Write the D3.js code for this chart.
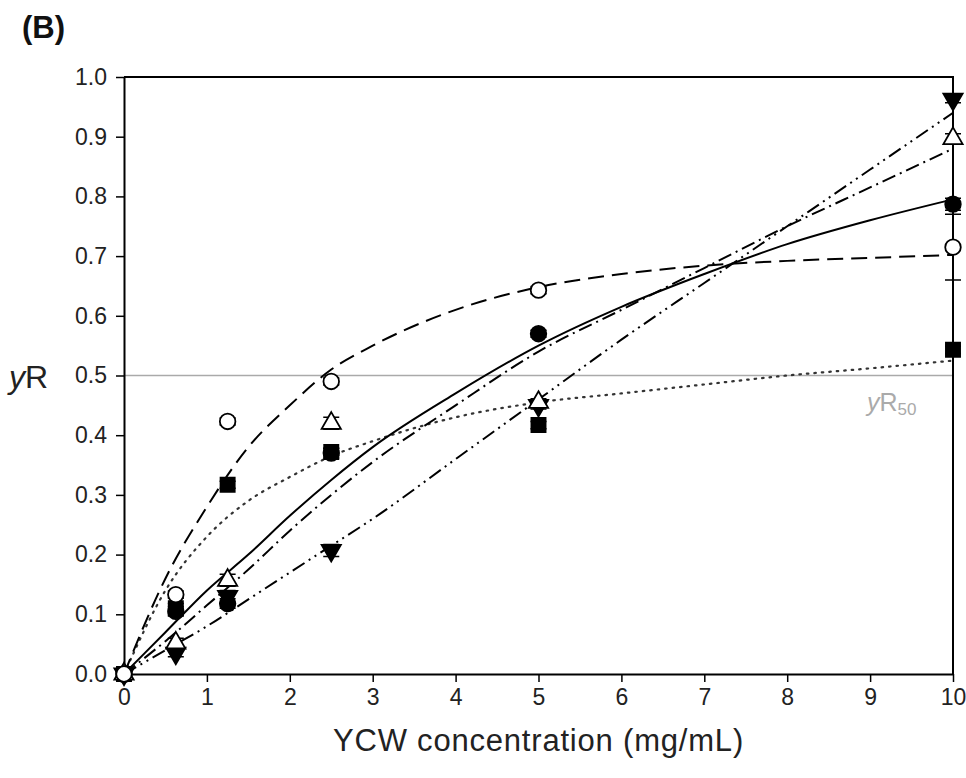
<!DOCTYPE html>
<html lang="en">
  <head>
    <meta charset="UTF-8" />
    <title>yR vs YCW concentration</title>
    <style>
      body { margin: 0; background: #fff; }
      svg { font-family: "Liberation Sans", Arial, sans-serif; }
    </style>
  </head>
  <body>
    <svg id="chart"></svg>
  </body>
</html>

<script src="https://cdnjs.cloudflare.com/ajax/libs/d3/7.8.5/d3.min.js"></script>

<script>
  // concentrations (mg/mL) where yR was measured
  const conc = [0, 0.625, 1.25, 2.5, 5, 10];

  // measured yR for each series
  const filledCircle = [0, 0.105, 0.118, 0.37, 0.57, 0.787];
  const openCircle = [0, 0.133, 0.423, 0.49, 0.643, 0.715];
  const filledTriDown = [0, 0.035, 0.13, 0.207, 0.45, 0.963];
  const openTriUp = [0, 0.052, 0.157, 0.42, 0.455, 0.897];
  const filledSquare = [0, 0.11, 0.317, 0.372, 0.417, 0.543];

  // standard errors
  const errFilledCircle = [0, 0.008, 0.008, 0.008, 0.006, 0.01];
  const errOpenCircle = [0, 0.006, 0.006, 0.006, 0.006, 0.055];
  const errFilledTriDown = [0, 0.006, 0.01, 0.01, 0.006, 0.006];
  const errOpenTriUp = [0, 0.008, 0.01, 0.01, 0.006, 0.008];
  const errFilledSquare = [0, 0.008, 0.006, 0.006, 0.006, 0.006];

  // fitted curves
  const curveX = [0, 0.5, 1, 1.5, 2, 2.5, 3, 4, 5, 6, 7, 8, 9, 10];
  const fitFilledCircle = [0, 0.07, 0.14, 0.2, 0.265, 0.325, 0.38, 0.47, 0.55, 0.615, 0.67, 0.72, 0.76, 0.795];
  const fitOpenCircle = [0, 0.16, 0.28, 0.38, 0.45, 0.51, 0.55, 0.61, 0.648, 0.67, 0.684, 0.692, 0.697, 0.702];
  const fitFilledTriDown = [0, 0.04, 0.08, 0.125, 0.17, 0.215, 0.26, 0.36, 0.46, 0.56, 0.655, 0.75, 0.845, 0.94];
  const fitOpenTriUp = [0, 0.055, 0.115, 0.175, 0.24, 0.3, 0.355, 0.45, 0.54, 0.61, 0.68, 0.75, 0.815, 0.88];
  const fitFilledSquare = [0, 0.14, 0.23, 0.29, 0.33, 0.365, 0.39, 0.43, 0.455, 0.47, 0.485, 0.5, 0.512, 0.525];

  const xTicks = [0, 1, 2, 3, 4, 5, 6, 7, 8, 9, 10];
  const yTicks = [0, 0.1, 0.2, 0.3, 0.4, 0.5, 0.6, 0.7, 0.8, 0.9, 1.0];
  const refLevel = 0.5;

  const series = [
    { pts: filledSquare, err: errFilledSquare, fit: fitFilledSquare, shape: "square", fill: "#000", dash: "1.5,6" },
    { pts: filledTriDown, err: errFilledTriDown, fit: fitFilledTriDown, shape: "triDown", fill: "#000", dash: "14,5,2,5,2,5" },
    { pts: openTriUp, err: errOpenTriUp, fit: fitOpenTriUp, shape: "triUp", fill: "#fff", dash: "14,5,2,5" },
    { pts: filledCircle, err: errFilledCircle, fit: fitFilledCircle, shape: "circle", fill: "#000", dash: null },
    { pts: openCircle, err: errOpenCircle, fit: fitOpenCircle, shape: "circle", fill: "#fff", dash: "16,8" },
  ];

  function drawChart({ width = 966, height = 778 }) {
    const margin = { left: 124, top: 77, right: 13, bottom: 104 };
    const svg = d3.select("#chart").attr("width", width).attr("height", height);

    const x = d3.scaleLinear().domain([0, 10]).range([margin.left, width - margin.right]);
    const y = d3.scaleLinear().domain([0, 1]).range([height - margin.bottom, margin.top]);

    // yR50 reference line
    svg.append("line")
      .attr("x1", x(0)).attr("x2", x(10))
      .attr("y1", y(refLevel)).attr("y2", y(refLevel))
      .attr("stroke", "#aaa").attr("stroke-width", 1.5);

    const yr = svg.append("text")
      .attr("x", 867).attr("y", 411)
      .attr("font-size", 25).attr("fill", "#aaa");
    yr.append("tspan").attr("font-style", "italic").text("y");
    yr.append("tspan").text("R");
    yr.append("tspan").attr("font-size", 17).attr("dy", 4).text("50");

    // axes
    const xAxis = d3.axisBottom(x).tickValues(xTicks).tickSize(8).tickSizeOuter(0).tickPadding(7)
      .tickFormat(d3.format("d"));
    const yAxis = d3.axisLeft(y).tickValues(yTicks).tickSize(8).tickSizeOuter(0).tickPadding(9)
      .tickFormat(d3.format(".1f"));

    const gx = svg.append("g").attr("transform", `translate(0,${y(0)})`).call(xAxis);
    const gy = svg.append("g").attr("transform", `translate(${x(0)},0)`).call(yAxis);
    [gx, gy].forEach((g) => {
      g.select(".domain").attr("stroke-width", 2);
      g.selectAll(".tick line").attr("stroke-width", 1.5);
      g.selectAll("text").attr("font-size", 23).attr("fill", "#222")
        .attr("font-family", "'Liberation Sans', Arial, sans-serif");
    });

    // frame top and right
    svg.append("path")
      .attr("d", `M${x(0)},${y(1)}H${x(10)}V${y(0)}`)
      .attr("fill", "none").attr("stroke", "#000").attr("stroke-width", 2);

    // fitted curves
    const line = d3.line().x((d) => x(d[0])).y((d) => y(d[1])).curve(d3.curveMonotoneX);
    series.forEach((s) => {
      const dotted = s.dash && s.dash.startsWith("1.5");
      svg.append("path")
        .datum(curveX.map((cx, i) => [cx, s.fit[i]]))
        .attr("d", line)
        .attr("fill", "none")
        .attr("stroke", dotted ? "#333" : "#000")
        .attr("stroke-width", dotted ? 2.2 : 2)
        .attr("stroke-linecap", dotted ? "round" : "butt")
        .attr("stroke-dasharray", s.dash);
    });

    // markers with error bars
    const sym = {
      circle: d3.symbol().type(d3.symbolCircle).size(190),
      square: d3.symbol().type(d3.symbolSquare).size(200),
      triUp: d3.symbol().type(d3.symbolTriangle).size(160),
    };
    series.forEach((s) => {
      const g = svg.append("g");
      conc.forEach((c, i) => {
        const e = s.err[i];
        if (e > 0) {
          g.append("path")
            .attr("d", `M${x(c)},${y(s.pts[i] - e)}V${y(s.pts[i] + e)}` +
              `M${x(c) - 8},${y(s.pts[i] - e)}h16M${x(c) - 8},${y(s.pts[i] + e)}h16`)
            .attr("stroke", "#000").attr("stroke-width", 1.5).attr("fill", "none");
        }
        const shape = s.shape === "triDown" ? "triUp" : s.shape;
        g.append("path")
          .attr("d", sym[shape])
          .attr("transform", `translate(${x(c)},${y(s.pts[i])})` + (s.shape === "triDown" ? " rotate(180)" : ""))
          .attr("fill", s.fill)
          .attr("stroke", "#000")
          .attr("stroke-width", 1.8);
      });
    });

    // labels
    svg.append("text")
      .attr("x", (x(0) + x(10)) / 2).attr("y", 751)
      .attr("text-anchor", "middle").attr("font-size", 31).attr("letter-spacing", 0.8).attr("fill", "#222")
      .text("YCW concentration (mg/mL)");

    const yl = svg.append("text")
      .attr("x", 9).attr("y", y(0.5) + 12)
      .attr("font-size", 32).attr("fill", "#222");
    yl.append("tspan").attr("font-style", "italic").text("y");
    yl.append("tspan").text("R");

    svg.append("text")
      .attr("x", 22).attr("y", 38)
      .attr("font-size", 31).attr("font-weight", "bold").attr("fill", "#111")
      .text("(B)");
  }

  drawChart({});
</script>
